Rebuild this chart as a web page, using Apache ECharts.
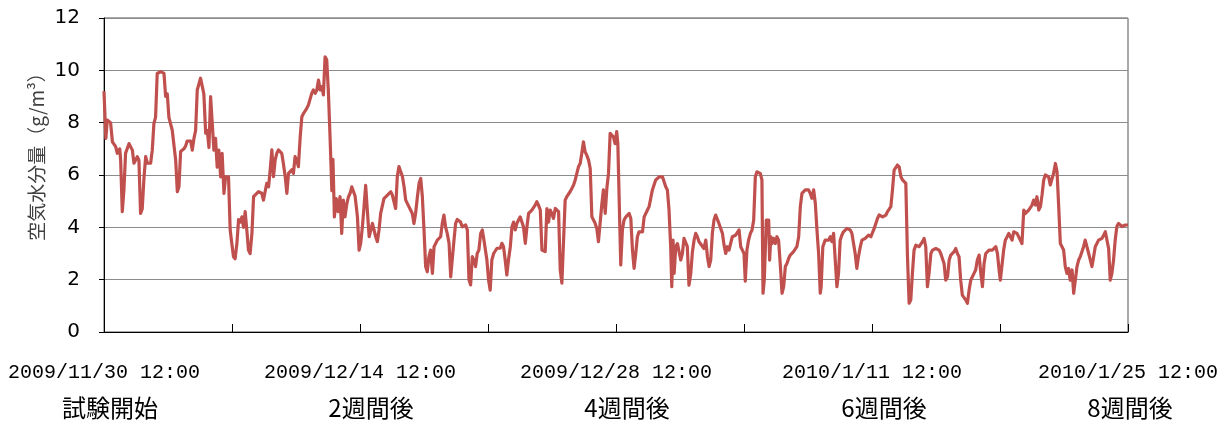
<!DOCTYPE html>
<html lang="ja">
<head>
<meta charset="utf-8">
<title>空気水分量の推移</title>
<script src="https://cdn.jsdelivr.net/npm/echarts@6/dist/echarts.min.js"></script>
<style>
  html, body { margin: 0; padding: 0; background: #ffffff; }
  #chart { width: 1224px; height: 424px; }
</style>
</head>
<body>
<div id="chart"></div>
<script>
// Absolute humidity readings: [days since 2009/11/30 12:00, g/m3], one array per week
const week1 = [[0.00,9.2],[0.10,7.4],[0.18,8.1],[0.36,8.0],[0.46,7.27],[0.64,7.08],[0.73,6.83],[0.86,7.0],[0.91,6.57],[1.00,4.6],[1.09,5.43],[1.18,6.83],[1.37,7.2],[1.55,6.95],[1.64,6.45],[1.73,6.57],[1.82,6.7],[1.91,6.57],[2.00,4.53],[2.09,4.7],[2.19,5.93],[2.28,6.7],[2.37,6.45],[2.55,6.45],[2.64,6.95],[2.73,7.97],[2.82,8.2],[2.91,9.88],[3.10,9.95],[3.28,9.88],[3.37,9.0],[3.46,9.1],[3.55,8.2],[3.73,7.72],[3.92,6.57],[4.01,5.36],[4.10,5.55],[4.19,6.9],[4.37,7.0],[4.46,7.1],[4.55,7.3],[4.74,7.3],[4.83,6.95],[4.92,7.4],[5.01,7.7],[5.10,9.25],[5.28,9.7],[5.37,9.75],[5.46,9.1],[5.56,7.6],[5.65,7.7],[5.74,7.05],[5.83,9.0],[5.92,9.0],[6.01,6.95],[6.10,7.4],[6.19,6.3],[6.28,6.95],[6.38,5.93],[6.46,6.83],[6.56,5.3],[6.65,5.93],[6.81,5.93],[6.90,3.9],[6.99,3.38]];
const week2 = [[7.08,2.88],[7.17,2.8],[7.27,3.4],[7.36,4.3],[7.45,4.2],[7.54,4.4],[7.63,4.0],[7.72,4.6],[7.81,3.9],[7.90,3.13],[7.99,3.0],[8.09,3.77],[8.18,5.17],[8.27,5.24],[8.45,5.36],[8.63,5.3],[8.72,5.04],[8.81,5.36],[8.90,5.68],[9.00,5.55],[9.09,6.2],[9.18,6.96],[9.27,5.94],[9.36,6.57],[9.45,6.83],[9.54,6.96],[9.63,7.0],[9.72,6.83],[9.81,6.44],[9.91,5.94],[10.00,5.3],[10.09,6.06],[10.27,6.2],[10.36,6.06],[10.45,6.7],[10.54,6.57],[10.63,6.32],[10.73,7.46],[10.82,8.23],[10.91,8.35],[11.09,8.55],[11.18,8.68],[11.27,8.74],[11.36,9.12],[11.45,9.25],[11.55,9.12],[11.64,9.25],[11.73,9.63],[11.82,9.25],[11.91,9.38],[12.00,9.06],[12.09,10.52],[12.18,10.4],[12.27,9.2],[12.36,7.5],[12.46,5.4],[12.52,6.6],[12.60,4.4],[12.70,5.1],[12.80,4.6],[12.91,5.17],[13.00,3.77],[13.09,5.04],[13.18,4.4],[13.28,4.9],[13.37,5.17],[13.46,5.3],[13.55,5.55],[13.64,5.5],[13.73,5.2],[13.86,4.4],[13.95,3.13]];
const week3 = [[14.04,3.4],[14.13,4.02],[14.22,4.78],[14.31,5.6],[14.40,4.66],[14.50,3.64],[14.59,3.58],[14.68,4.15],[14.77,4.2],[14.86,3.64],[14.95,3.45],[15.04,3.9],[15.13,4.53],[15.22,4.6],[15.31,5.1],[15.41,5.1],[15.50,5.23],[15.59,5.3],[15.68,5.36],[15.77,5.23],[15.86,5.17],[15.95,4.72],[16.04,5.94],[16.13,6.32],[16.22,6.25],[16.32,5.94],[16.41,5.55],[16.50,5.04],[16.59,4.98],[16.68,4.78],[16.77,4.78],[16.86,4.53],[16.95,4.15],[17.04,4.53],[17.14,5.17],[17.23,5.68],[17.32,5.87],[17.41,5.17],[17.50,3.9],[17.59,2.5],[17.68,2.3],[17.77,2.88],[17.86,3.13],[17.96,2.24],[18.05,3.26],[18.14,3.32],[18.23,3.51],[18.32,3.58],[18.41,3.64],[18.50,4.15],[18.59,4.47],[18.68,4.02],[18.77,3.77],[18.87,3.39],[18.96,2.11],[19.05,2.11],[19.14,3.51],[19.23,4.15],[19.32,4.3],[19.50,4.2],[19.59,4.02],[19.68,4.02],[19.78,4.09],[19.87,3.9],[19.96,2.0],[20.05,1.8],[20.14,2.88],[20.23,2.75],[20.32,2.5],[20.41,3.0],[20.50,3.13],[20.60,3.77],[20.69,3.9],[20.78,3.51],[20.94,2.75]];
const week4 = [[21.03,2.0],[21.12,1.6],[21.21,2.75],[21.31,3.0],[21.40,3.07],[21.49,3.2],[21.58,3.13],[21.67,3.2],[21.76,3.39],[21.85,3.26],[21.94,2.75],[22.03,2.18],[22.12,2.75],[22.22,3.26],[22.31,4.02],[22.40,4.2],[22.49,3.9],[22.58,4.15],[22.67,4.28],[22.76,4.4],[22.85,4.34],[22.94,4.02],[23.04,3.39],[23.13,4.02],[23.22,4.53],[23.31,4.47],[23.40,4.66],[23.49,4.6],[23.58,4.85],[23.67,4.98],[23.76,4.85],[23.86,4.66],[23.95,3.13],[24.04,3.07],[24.13,3.07],[24.22,4.72],[24.31,4.2],[24.40,4.66],[24.49,4.53],[24.58,4.34],[24.68,4.72],[24.77,4.72],[24.86,4.6],[24.95,2.37],[25.04,1.87],[25.13,1.8],[25.22,5.04],[25.31,5.17],[25.40,5.23],[25.49,5.36],[25.59,5.49],[25.68,5.62],[25.77,5.81],[25.86,5.87],[25.95,6.32],[26.04,6.44],[26.13,6.83],[26.22,7.27],[26.31,6.89],[26.40,6.76],[26.50,6.57],[26.59,6.25],[26.68,4.4],[26.77,4.28],[26.86,4.15],[26.95,3.96],[27.04,3.45],[27.13,3.51],[27.22,4.85],[27.31,5.43],[27.41,4.53],[27.50,5.49],[27.59,6.06],[27.68,7.59],[27.77,7.53],[27.86,7.46],[27.95,7.2]];
const week5 = [[28.04,7.66],[28.10,7.2],[28.26,2.56],[28.35,3.9],[28.44,4.28],[28.54,4.4],[28.63,4.34],[28.72,4.53],[28.81,4.34],[28.90,3.13],[28.99,2.43],[29.08,3.0],[29.17,3.64],[29.26,3.83],[29.35,3.9],[29.45,3.83],[29.54,4.4],[29.63,4.47],[29.72,4.66],[29.81,4.79],[29.90,5.11],[29.99,5.43],[30.08,5.62],[30.17,5.81],[30.27,5.87],[30.36,5.93],[30.54,5.93],[30.63,5.74],[30.72,5.55],[30.81,5.43],[30.90,4.66],[30.99,3.26],[31.05,1.73],[31.12,3.51],[31.18,2.24],[31.27,3.26],[31.36,3.38],[31.45,3.32],[31.54,2.75],[31.63,3.0],[31.72,3.58],[31.81,3.64],[31.90,3.26],[31.99,1.79],[32.09,2.24],[32.18,3.07],[32.27,3.51],[32.36,3.77],[32.45,3.64],[32.54,3.45],[32.63,3.38],[32.81,3.19],[32.91,3.51],[33.00,2.88],[33.09,2.5],[33.18,2.75],[33.27,3.77],[33.36,4.28],[33.45,4.47],[33.54,4.47],[33.63,4.15],[33.72,4.22],[33.82,3.77],[33.91,3.32],[34.00,3.0],[34.09,3.26],[34.18,3.13],[34.27,3.19],[34.36,3.64],[34.54,3.7],[34.64,3.64],[34.73,3.9],[34.82,3.26],[34.91,3.13]];
const week6 = [[35.00,3.0],[35.07,1.94],[35.16,3.13],[35.25,3.51],[35.35,3.77],[35.44,3.9],[35.53,4.28],[35.62,5.93],[35.71,6.12],[35.89,6.06],[35.98,5.81],[36.04,1.48],[36.11,2.0],[36.22,4.28],[36.35,4.28],[36.40,2.75],[36.47,3.64],[36.53,3.38],[36.62,3.58],[36.71,3.38],[36.80,3.64],[36.89,3.51],[36.98,2.62],[37.08,1.48],[37.17,1.73],[37.26,2.5],[37.35,2.62],[37.44,2.81],[37.53,2.94],[37.62,3.0],[37.71,3.07],[37.80,3.0],[37.89,3.26],[37.99,3.64],[38.08,4.79],[38.17,5.3],[38.26,5.36],[38.35,5.43],[38.44,5.49],[38.53,5.43],[38.62,5.3],[38.71,5.11],[38.81,5.43],[38.90,4.92],[38.99,3.9],[39.08,3.0],[39.17,1.48],[39.22,1.73],[39.31,3.26],[39.44,3.51],[39.53,3.58],[39.63,3.51],[39.72,3.64],[39.81,3.45],[39.90,3.77],[39.99,2.75],[40.08,1.73],[40.17,2.24],[40.26,3.51],[40.35,3.7],[40.44,3.83],[40.54,3.9],[40.63,3.96],[40.72,3.96],[40.81,3.9],[40.90,3.77],[40.99,3.7],[41.08,3.0],[41.17,2.43],[41.26,2.88],[41.36,3.26],[41.45,3.51],[41.54,3.45],[41.63,3.58],[41.72,3.64],[41.81,3.7],[41.94,3.64]];
const week7 = [[42.03,3.7],[42.12,3.96],[42.21,4.15],[42.30,4.34],[42.39,4.47],[42.58,4.4],[42.67,4.47],[42.76,4.47],[42.85,4.6],[42.94,4.66],[43.03,4.79],[43.12,5.43],[43.21,6.19],[43.30,6.25],[43.39,6.38],[43.49,6.3],[43.58,5.93],[43.67,5.81],[43.76,5.74],[43.85,5.68],[43.94,2.88],[44.03,1.1],[44.12,1.22],[44.21,2.24],[44.30,3.13],[44.40,3.32],[44.49,3.32],[44.58,3.26],[44.67,3.32],[44.76,3.45],[44.85,3.58],[44.94,3.26],[45.03,1.73],[45.12,2.24],[45.22,3.0],[45.31,3.13],[45.40,3.07],[45.49,3.19],[45.58,3.26],[45.67,3.13],[45.76,3.0],[45.85,3.0],[45.94,2.62],[46.03,1.98],[46.13,2.11],[46.22,2.75],[46.31,2.94],[46.40,2.88],[46.49,3.07],[46.58,3.19],[46.67,3.0],[46.76,2.88],[46.85,1.98],[46.94,1.41],[47.04,1.34],[47.13,1.22],[47.22,1.1],[47.31,1.6],[47.40,1.98],[47.49,2.11],[47.58,2.24],[47.67,2.37],[47.76,2.75],[47.86,2.94],[47.95,2.24],[48.04,1.73],[48.13,2.62],[48.22,3.0],[48.40,3.13],[48.49,3.19],[48.58,3.13],[48.68,3.07],[48.77,3.26],[48.86,3.0],[48.95,2.37]];
const week8 = [[49.02,1.98],[49.11,2.56],[49.20,3.13],[49.29,3.51],[49.39,3.64],[49.48,3.77],[49.57,3.64],[49.66,3.51],[49.75,3.83],[49.93,3.77],[50.02,3.77],[50.11,3.51],[50.20,3.38],[50.30,4.66],[50.39,4.53],[50.48,4.6],[50.57,4.66],[50.66,4.66],[50.75,4.85],[50.84,5.04],[50.93,4.85],[51.02,5.17],[51.12,4.66],[51.21,4.79],[51.30,5.24],[51.39,5.81],[51.48,6.0],[51.57,6.06],[51.66,5.93],[51.75,5.62],[51.84,5.68],[51.93,6.06],[52.03,6.44],[52.12,6.12],[52.21,4.79],[52.30,3.38],[52.39,3.26],[52.48,3.13],[52.57,2.5],[52.66,2.24],[52.75,2.43],[52.84,1.98],[52.94,2.37],[53.03,1.48],[53.12,1.48],[53.21,2.5],[53.30,2.75],[53.39,2.88],[53.48,2.94],[53.57,3.26],[53.66,3.51],[53.75,3.51],[53.85,3.0],[53.94,2.75],[54.03,2.5],[54.12,2.88],[54.21,3.26],[54.30,3.32],[54.39,3.51],[54.58,3.58],[54.67,3.7],[54.76,3.83],[54.85,3.9],[54.94,3.19],[55.03,1.98],[55.12,2.24],[55.21,2.75],[55.30,3.51],[55.39,4.03],[55.48,4.15],[55.67,4.03],[55.85,4.09],[56.00,4.09]];

// Labelled ticks every two weeks
const tickDates = ['2009/11/30 12:00', '2009/12/14 12:00', '2009/12/28 12:00', '2010/1/11 12:00', '2010/1/25 12:00'];
const tickNotes = ['試験開始', '2週間後', '4週間後', '6週間後', '8週間後'];
const yTicks = [0, 2, 4, 6, 8, 10, 12];

const readings = [].concat(week1, week2, week3, week4, week5, week6, week7, week8);

const chart = echarts.init(document.getElementById('chart'), null, { renderer: 'canvas' });

const CJK = '"Noto Sans CJK JP", "Noto Sans CJK SC", sans-serif';
// each note line sits slightly right of its date line
const noteShift = [12, 22, 22, 24, 4];
const rich = {
  d: { fontFamily: '"Liberation Mono", "DejaVu Sans Mono", monospace', fontSize: 20, lineHeight: 30, color: '#000' }
};
noteShift.forEach((s, i) => {
  rich['n' + i] = { fontFamily: CJK, fontSize: 24, lineHeight: 40, color: '#000', padding: [0, 0, 0, s] };
});

chart.setOption({
  animation: false,
  backgroundColor: '#ffffff',
  grid: {
    left: 104, right: 96, top: 18, bottom: 92,
    show: true, borderColor: '#555555', borderWidth: 1, backgroundColor: 'transparent'
  },
  xAxis: {
    type: 'value',
    min: 0, max: 56, interval: 7,
    axisLine: { show: true, onZero: false, lineStyle: { color: '#000', width: 1 } },
    axisTick: { show: true, inside: true, length: 8, lineStyle: { color: '#000' } },
    splitLine: { show: false },
    axisLabel: {
      showMinLabel: true, showMaxLabel: true, hideOverlap: false,
      margin: 26,
      formatter: function (v) {
        const i = Math.round(v / 14);
        if (Math.abs(v - i * 14) > 1e-6 || i >= tickDates.length) return '';
        return '{d|' + tickDates[i] + '}\n{n' + i + '|' + tickNotes[i] + '}';
      },
      rich: rich
    }
  },
  yAxis: {
    type: 'value',
    min: yTicks[0], max: yTicks[yTicks.length - 1], interval: 2,
    axisLine: { show: true, lineStyle: { color: '#000', width: 1 } },
    axisTick: { show: true, inside: false, length: 5, lineStyle: { color: '#000' } },
    splitLine: { show: true, lineStyle: { color: '#8c8c8c', width: 1 } },
    axisLabel: {
      margin: 24,
      fontFamily: '"DejaVu Sans", sans-serif',
      fontSize: 20,
      color: '#000'
    }
  },
  graphic: [{
    type: 'text',
    x: 37, y: 152,
    rotation: Math.PI / 2,
    style: {
      text: '空気水分量（g/m³）',
      font: '19px ' + CJK,
      fill: '#404040',
      textAlign: 'center',
      textVerticalAlign: 'middle'
    }
  }],
  series: [{
    type: 'line',
    data: readings,
    showSymbol: false,
    smooth: false,
    lineStyle: { color: '#C0504D', width: 3.2, join: 'round' },
    itemStyle: { color: '#C0504D' }
  }]
});
</script>
</body>
</html>
